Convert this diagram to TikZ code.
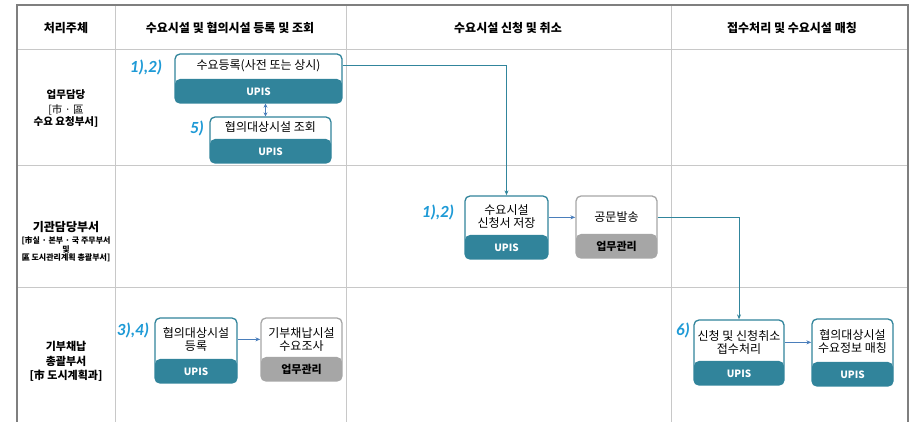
\documentclass[tikz,border=0pt]{standalone}
\usepackage{fontspec}
\usepackage{xcolor}
\usepackage{tikz}
\usetikzlibrary{calc,arrows.meta}
\setmainfont{Noto Sans CJK KR}
\newfontfamily\numfont{Carlito}
\definecolor{upis}{HTML}{31849B}
\definecolor{work}{HTML}{A6A6A6}
\definecolor{frame}{HTML}{7F7F7F}
\definecolor{grid}{HTML}{C8C8C8}
\definecolor{num}{HTML}{1E9AD6}
\definecolor{link}{HTML}{31859C}
\definecolor{arw}{HTML}{4A7EBB}

\begin{document}
\begin{tikzpicture}[x=1pt,y=-1pt,
  ubox/.style={draw=upis,line width=1.3pt,rounded corners=5pt,fill=white,inner sep=0pt,
    path picture={\fill[upis] (path picture bounding box.south west) rectangle ([yshift=24pt]path picture bounding box.south east);}},
  gbox/.style={ubox,draw=work,
    path picture={\fill[work] (path picture bounding box.south west) rectangle ([yshift=24pt]path picture bounding box.south east);}},
  btxt/.style={inner sep=0pt,align=center,font=\fontsize{12}{13.5}\selectfont},
  utxt/.style={inner sep=0pt,text=white,font=\bfseries\fontsize{10}{12}\selectfont},
  wtxt/.style={inner sep=0pt,font=\bfseries\fontsize{11}{12}\selectfont},
  nolbl/.style={inner sep=0pt,text=num,font=\numfont\bfseries\itshape\fontsize{17}{17}\selectfont},
  head/.style={inner sep=0pt,font=\bfseries\fontsize{12}{14}\selectfont},
  link/.style={draw=link,line width=1pt,-{Stealth[length=5pt,width=4pt]}},
  conn/.style={draw=arw,line width=1pt,-{Stealth[length=5pt,width=4pt]}}]
  \useasboundingbox (0,0) rectangle (914,422);

  \foreach \y in {49,165,287} \draw[grid] (17,\y) -- (908,\y);
  \foreach \x in {115,346,671} \draw[grid] (\x,5) -- (\x,422);
  \draw[frame,line width=2pt] (17,422) -- (17,5) -- (908,5) -- (908,422);

  \node[head] (h0) at (66,28) {처리주체};
  \node[head] (h1) at (230,28) {수요시설 및 협의시설 등록 및 조회};
  \node[head] (h2) at (508,28) {수요시설 신청 및 취소};
  \node[head] (h3) at (792,28) {접수처리 및 수요시설 매칭};

  \node[inner sep=0pt,align=center,font=\fontsize{10.5}{12}\selectfont] (w1) at (66,108.5)
    {{\bfseries 업무담당}\\[3pt] {[市 · 區}\\ {\bfseries 수요 요청부서]}};
  \node[inner sep=0pt,font=\bfseries\fontsize{12}{13}\selectfont] (w2) at (66,227) {기관담당부서};
  \node[inner sep=0pt,align=center,font=\bfseries\fontsize{8}{8.3}\selectfont] (w2s) at (66,249.5)
    {{[市실 · 본부 · 국 주무부서}\\ 및\\ 區 도시관리계획 총괄부서]};
  \node[inner sep=0pt,align=center,font=\bfseries\fontsize{11}{14.5}\selectfont] (w3) at (66,361.5)
    {기부채납\\ 총괄부서\\ {[市 도시계획과]}};

  \node[ubox,minimum width=167pt,minimum height=49pt] (reg) at (258.5,78.5) {};
  \node[btxt] (regA) at ([yshift=-12pt]reg.north) {수요등록(사전 또는 상시)};
  \node[utxt] (regB) at ([yshift=12pt]reg.south) {UPIS};
  \node[nolbl] (regN) at (146,67) {1),2)};

  \node[ubox,minimum width=121pt,minimum height=46pt] (qry) at (270.5,140) {};
  \node[btxt] (qryA) at ([yshift=-11pt]qry.north) {협의대상시설 조회};
  \node[utxt] (qryB) at ([yshift=12pt]qry.south) {UPIS};
  \node[nolbl] (qryN) at (197,128) {5)};

  \node[ubox,minimum width=83pt,minimum height=63pt] (save) at (506.5,227.5) {};
  \node[btxt] (saveA) at ([yshift=-21pt]save.north) {수요시설\\ 신청서 저장};
  \node[utxt] (saveB) at ([yshift=12pt]save.south) {UPIS};
  \node[nolbl] (saveN) at (438,212) {1),2)};

  \node[gbox,minimum width=81pt,minimum height=62pt] (doc) at (616.5,227) {};
  \node[btxt] (docA) at ([yshift=-22pt]doc.north) {공문발송};
  \node[wtxt] (docB) at ([yshift=12pt]doc.south) {업무관리};

  \node[ubox,minimum width=90pt,minimum height=65pt] (recv) at (739,352.5) {};
  \node[btxt] (recvA) at ([yshift=-23pt]recv.north) {신청 및 신청취소\\ 접수처리};
  \node[utxt] (recvB) at ([yshift=12pt]recv.south) {UPIS};
  \node[nolbl] (recvN) at (683,330) {6)};

  \node[ubox,minimum width=81pt,minimum height=67pt] (match) at (852.5,352.5) {};
  \node[btxt] (matchA) at ([yshift=-23pt]match.north) {협의대상시설\\ 수요정보 매칭};
  \node[utxt] (matchB) at ([yshift=12pt]match.south) {UPIS};

  \node[ubox,minimum width=82pt,minimum height=65pt] (enr) at (196,350.5) {};
  \node[btxt] (enrA) at ([yshift=-22pt]enr.north) {협의대상시설\\ 등록};
  \node[utxt] (enrB) at ([yshift=12pt]enr.south) {UPIS};
  \node[nolbl] (enrN) at (133,330) {3),4)};

  \node[gbox,minimum width=81pt,minimum height=63pt] (surv) at (301.5,349.5) {};
  \node[btxt] (survA) at ([yshift=-22pt]surv.north) {기부채납시설\\ 수요조사};
  \node[wtxt] (survB) at ([yshift=12pt]surv.south) {업무관리};

  \draw[link] (reg.east |- regA) -| (save.north);
  \draw[link] (doc.east |- docA) -| (recv.north);
  \draw[conn] (save.east |- docA) -- (doc.west |- docA);
  \draw[conn] (recv.east |- recvA) -- (match.west |- recvA);
  \draw[conn] (enr.east |- enrA) -- (surv.west |- enrA);
  \draw[conn,{Stealth[length=4pt,width=4pt]}-{Stealth[length=4pt,width=4pt]}]
    ([xshift=-5pt]qry.north) -- ([xshift=-5pt]qry.north |- reg.south);
\end{tikzpicture}
\end{document}
